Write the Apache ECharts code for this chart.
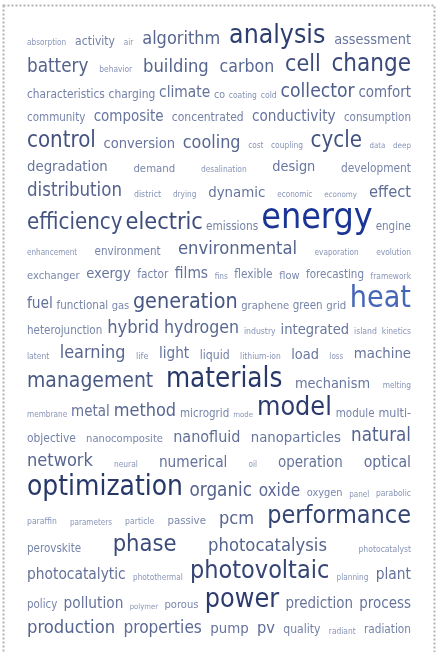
<!DOCTYPE html>
<html><head><meta charset="utf-8">
<script src="https://cdn.jsdelivr.net/npm/echarts@6/dist/echarts.min.js"></script>
<style>html,body{margin:0;padding:0;background:#fff}#chart{width:442px;height:652px}</style>
</head><body><div id="chart"></div>
<script>
// ---- data ----
const words = [
 'absorption','activity','air','algorithm','analysis','assessment',
 'battery','behavior','building','carbon','cell','change',
 'characteristics','charging','climate','co','coating','cold','collector','comfort',
 'community','composite','concentrated','conductivity','consumption',
 'control','conversion','cooling','cost','coupling','cycle','data','deep',
 'degradation','demand','desalination','design','development',
 'distribution','district','drying','dynamic','economic','economy','effect',
 'efficiency','electric','emissions','energy','engine',
 'enhancement','environment','environmental','evaporation','evolution',
 'exchanger','exergy','factor','films','fins','flexible','flow','forecasting','framework',
 'fuel','functional','gas','generation','graphene','green','grid','heat',
 'heterojunction','hybrid','hydrogen','industry','integrated','island','kinetics',
 'latent','learning','life','light','liquid','lithium-ion','load','loss','machine',
 'management','materials','mechanism','melting',
 'membrane','metal','method','microgrid','mode','model','module','multi-',
 'objective','nanocomposite','nanofluid','nanoparticles','natural',
 'network','neural','numerical','oil','operation','optical',
 'optimization','organic','oxide','oxygen','panel','parabolic',
 'paraffin','parameters','particle','passive','pcm','performance',
 'perovskite','phase','photocatalysis','photocatalyst',
 'photocatalytic','photothermal','photovoltaic','planning','plant',
 'policy','pollution','polymer','porous','power','prediction','process',
 'production','properties','pump','pv','quality','radiant','radiation'
];
const weights = [
 8.5,12.5,8.5,18.7,27.5,15,
 19.5,8.7,19,18.3,24,25,
 12.3,12.4,16,11,8.8,9,20,15.6,
 12,15.6,12.5,15.8,12,
 23,15.2,18.6,8.5,8.7,23,8.2,8.3,
 15.4,11.8,8.7,15,12.3,
 19.3,9.1,8.5,15.5,8.4,8.3,17,
 23,24.3,12.2,37,12,
 8.4,12,19,8.5,8.7,
 11.6,15.2,12.2,16,8.5,12.2,11.4,12,8.7,
 16,12,11.5,22.3,11.6,12,11.8,31.4,
 12,18.9,18.3,9,15.2,9,8.8,
 8.8,18.7,9.5,15.8,12.7,8.8,15,8.4,15.4,
 21.8,28.7,15,8.6,
 8.5,15.6,18.7,12,8.1,27.8,12,12.9,
 12.4,11.6,16.7,15.4,19.4,
 18.8,8.7,15.9,8.5,15.6,16.3,
 29,19.5,17.8,11.4,8.4,8.8,
 8.9,8.4,9,11.8,18.8,26,
 12,24.5,19,8.9,
 16,8.5,26,8.5,16,
 11.9,15.9,8,11.6,27.8,15.6,15.6,
 19,17.8,15.5,17,12.6,8.7,12.2
];
const wordsPerLine = [6,6,8,5,8,5,7,5,5,9,8,7,9,4,8,5,6,6,6,4,5,7,7];

// ---- styling / layout config ----
const LEFT = 27, RIGHT = 411;
const highlight = { energy: '#1a3595', heat: '#4666b8' };
const lightC = [138,151,186], darkC = [39,55,104];

const cv = document.createElement('canvas').getContext('2d');
function hasFont(name){
  const s='abcdefghijklmnopqrstuvwxyz0123';
  cv.font='72px "'+name+'", monospace'; const a=cv.measureText(s).width;
  cv.font='72px monospace'; const b=cv.measureText(s).width;
  return a!==b;
}
const FAMILY = hasFont('DejaVu Sans Condensed') ? 'DejaVu Sans Condensed' : 'Liberation Sans';
// calibrate font scale so word widths match reference proportions
cv.font = '100px "'+FAMILY+'"';
const refW = cv.measureText('energymaterialsoptimizationperformance').width;
const SCALE = 1798.2 / refW;
const m = cv.measureText('x');
const midOff = (m.fontBoundingBoxAscent - m.fontBoundingBoxDescent) / 2 / 100;

function colorFor(w, word){
  if (highlight[word]) return highlight[word];
  let t = (w - 8) / (29 - 8); t = Math.max(0, Math.min(1, t));
  const c = lightC.map((v,i)=>Math.round(v + (darkC[i]-v)*t));
  return 'rgb('+c.join(',')+')';
}

// layout: justified lines
const layout = [];
let idx = 0, baseline = 0;
wordsPerLine.forEach((n, li) => {
  const ws = weights.slice(idx, idx+n);
  const maxW = Math.max(...ws);
  baseline = li === 0 ? 34 + 0.42*maxW : baseline + 17.1 + 0.42*maxW;
  const items = [];
  let total = 0;
  for (let k=0;k<n;k++){
    const fs = weights[idx+k]*SCALE;
    cv.font = fs+'px "'+FAMILY+'"';
    const w = cv.measureText(words[idx+k]).width;
    items.push({fs, w}); total += w;
  }
  const gap = n>1 ? (RIGHT-LEFT-total)/(n-1) : 0;
  let x = LEFT;
  items.forEach((it,k)=>{
    layout[idx+k] = {x, y: baseline - midOff*it.fs, fs: it.fs};
    x += it.w + gap;
  });
  idx += n;
});

const chart = echarts.init(document.getElementById('chart'), null, {renderer:'canvas'});
chart.setOption({
  animation: false,
  backgroundColor: '#fff',
  graphic: [{
    type: 'rect', silent: true,
    shape: {x: 3.5, y: 5.5, width: 431, height: 660},
    style: {fill: 'none', stroke: '#b4b4b4', lineWidth: 2, lineDash: [2,2]}
  }],
  series: [{
    type: 'custom',
    coordinateSystem: 'none',
    silent: true,
    data: words.map((w,i)=>[i, weights[i]]),
    renderItem: function(params){
      const i = params.dataIndex, L = layout[i];
      return {
        type: 'text', x: L.x, y: L.y, silent: true,
        style: {
          text: words[i], fill: colorFor(weights[i], words[i]),
          fontSize: L.fs, fontFamily: FAMILY,
          align: 'left', verticalAlign: 'middle'
        }
      };
    }
  }]
});
</script></body></html>
